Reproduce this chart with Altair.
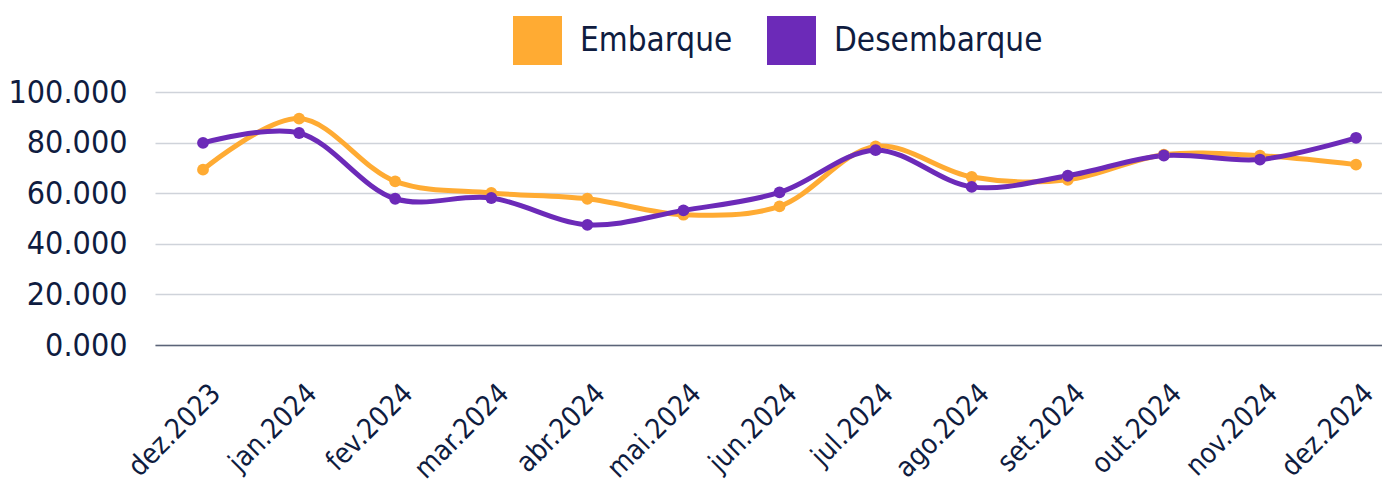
import altair as alt
import pandas as pd

months = ["dez.2023", "jan.2024", "fev.2024", "mar.2024", "abr.2024", "mai.2024",
          "jun.2024", "jul.2024", "ago.2024", "set.2024", "out.2024", "nov.2024", "dez.2024"]
embarque = [69300, 89500, 64700, 60100, 57800, 51500, 54800, 78500, 66400, 65300, 75200, 74800, 71300]
desembarque = [79900, 83800, 57800, 58100, 47500, 53200, 60300, 77000, 62500, 66900, 74900, 73300, 81900]
series = ["Embarque", "Desembarque"]
colors = ["#FFAB33", "#6C2AB8"]

rows = []
for m, e, d in zip(months, embarque, desembarque):
    rows.append({"mes": m, "serie": series[0], "valor": e})
    rows.append({"mes": m, "serie": series[1], "valor": d})
df = pd.DataFrame(rows)

FONT = "DejaVu Sans Condensed, sans-serif"
TXT = "#0f1c3f"

x = alt.X("mes:N", sort=months, title=None,
          scale=alt.Scale(type="point", padding=0.385, align=0.649),
          axis=alt.Axis(labelAngle=315, labelAlign="right", labelBaseline="middle",
                        labelFontSize=28, labelFont=FONT, labelColor=TXT,
                        labelPadding=44, labelOffset=13,
                        ticks=False, domain=True, domainColor="#5b6478", domainWidth=1.5,
                        grid=False, labelOverlap=False))
y = alt.Y("valor:Q", title=None,
          scale=alt.Scale(domain=[0, 100000], nice=False),
          axis=alt.Axis(values=[0, 20000, 40000, 60000, 80000, 100000], format=",.0f",
                        labelExpr="replace(datum.label, /,/g, '.') == '0' ? '0.000' : replace(datum.label, /,/g, '.')",
                        labelFontSize=32, labelFont=FONT, labelColor=TXT, labelPadding=28,
                        ticks=False, domain=False, gridColor="#cfd3da", gridWidth=1.5))
color = alt.Color("serie:N", sort=series,
                  scale=alt.Scale(domain=series, range=colors),
                  legend=alt.Legend(title=None, orient="none", direction="horizontal",
                                    legendX=358, legendY=-76, symbolType="square",
                                    symbolSize=2400, symbolStrokeWidth=0, symbolOpacity=1,
                                    labelFontSize=33, labelFont=FONT, labelColor=TXT,
                                    labelLimit=1000, labelOffset=18, columnPadding=34))

base = alt.Chart(df).encode(x=x, y=y, color=color, detail="serie:N")
lines = base.mark_line(interpolate="catmull-rom", strokeWidth=5)
points = base.mark_circle(size=140, opacity=1)

chart = (lines + points).properties(
    width=1227, height=253,
    background="white",
    autosize=alt.AutoSizeParams(type="none"),
    padding={"left": 147, "top": 84, "right": 0, "bottom": 140},
).configure_view(strokeWidth=0)

chart.save("out.html", embed_options={"renderer": "svg", "actions": False})
